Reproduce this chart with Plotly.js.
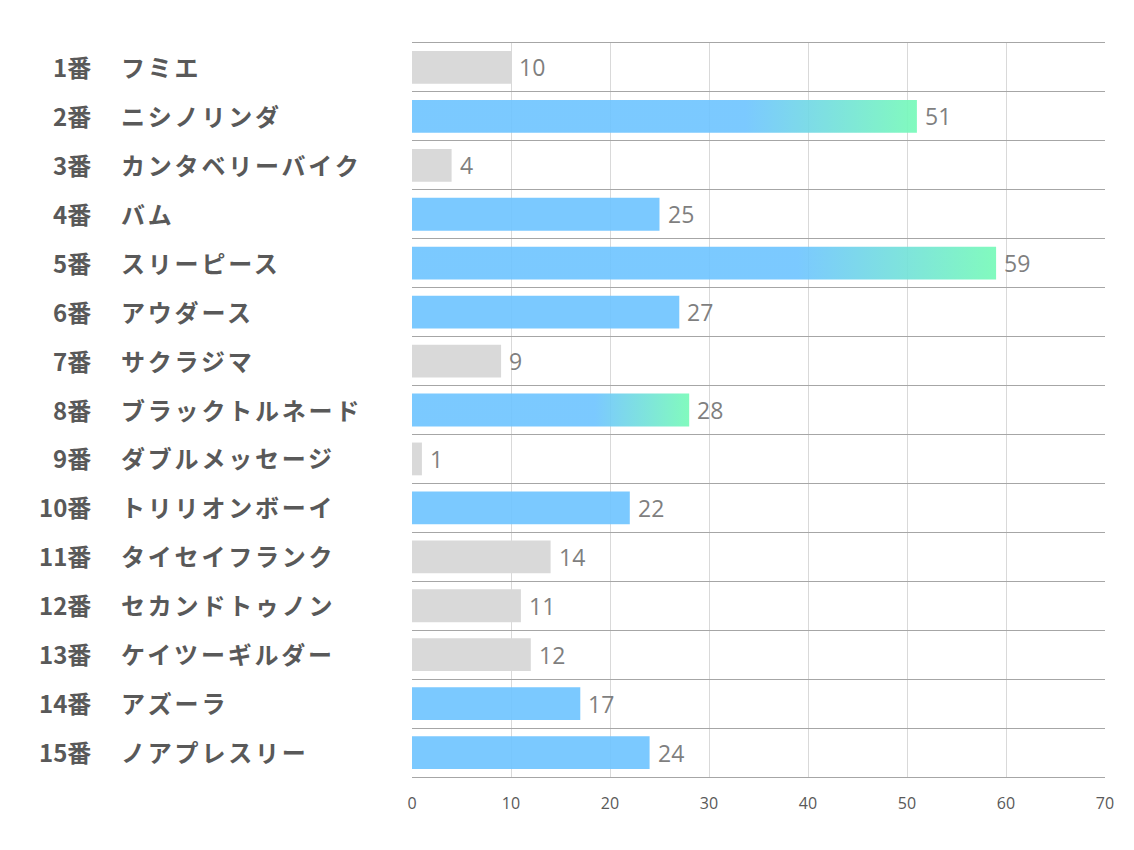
<!DOCTYPE html>
<html>
<head>
<meta charset="utf-8">
<script src="https://cdn.plot.ly/plotly-3.0.1.min.js"></script>
<style>html,body{margin:0;padding:0;background:#fff;}#chart{width:1134px;height:850px;}</style>
</head>
<body>
<div id="chart"></div>
<script>
const numbers = ["1番","2番","3番","4番","5番","6番","7番","8番","9番","10番","11番","12番","13番","14番","15番"];
const names = ["フミエ","ニシノリンダ","カンタベリーバイク","バム","スリーピース","アウダース","サクラジマ","ブラックトルネード","ダブルメッセージ","トリリオンボーイ","タイセイフランク","セカンドトゥノン","ケイツーギルダー","アズーラ","ノアプレスリー"];
const values = [10,51,4,25,59,27,9,28,1,22,14,11,12,17,24];
const xTicks = [0,10,20,30,40,50,60,70];

const idx = values.map((v,i)=>i);
const sorted = values.slice().sort((a,b)=>b-a);
const blueCut = sorted[7];   // top 8 are blue
const gradCut = sorted[2];   // top 3 get gradient
const BLUE = 'rgba(110,196,255,0.91)';
const GRAY = 'rgba(217,217,217,1)';
const colors = values.map(v => v >= blueCut ? BLUE : GRAY);

const trace = {
  type: 'bar', orientation: 'h',
  x: values, y: idx,
  width: 0.67,
  marker: {color: colors, line: {width: 0}},
  hoverinfo: 'none'
};

const annotations = [];
idx.forEach(i => {
  annotations.push({xref:'paper', yref:'y', x:0, y:i, xshift:-319, yshift:1, xanchor:'right', yanchor:'middle',
    text:numbers[i], showarrow:false, font:{family:'Noto Sans CJK JP', size:24, color:'#595959', weight:'bold'}});
  annotations.push({xref:'paper', yref:'y', x:0, y:i, xshift:-293, yshift:1, xanchor:'left', yanchor:'middle',
    text:names[i], showarrow:false, font:{family:'Noto Sans CJK JP', size:24, color:'#595959', weight:'bold'}});
  annotations.push({xref:'x', yref:'y', x:values[i], y:i, xshift:6, xanchor:'left', yanchor:'middle',
    text:String(values[i]), showarrow:false, font:{family:'Open Sans', size:23, color:'#7f7f7f'}});
});

const gridVals = idx.slice(0, idx.length-1).map(i => i + 0.5);

const layout = {
  width:1134, height:850,
  margin:{l:412, r:29, t:43, b:73},
  paper_bgcolor:'#fff', plot_bgcolor:'#fff',
  showlegend:false,
  xaxis:{range:[0,70], tickvals:xTicks, ticktext:xTicks.map(String), showgrid:true, gridcolor:'#d9d9d9', gridwidth:1,
    zeroline:false, showline:true, mirror:true, linecolor:'#a6a6a6', linewidth:1, ticks:'',
    ticklabelstandoff:12, tickfont:{family:'Open Sans', size:16, color:'#595959'}, fixedrange:true},
  yaxis:{range:[14.5,-0.5], tickvals:gridVals, showticklabels:false, showgrid:true, gridcolor:'#a6a6a6', gridwidth:1,
    zeroline:false, showline:false, ticks:'', fixedrange:true},
  annotations: annotations
};

Plotly.newPlot('chart', [trace], layout, {displayModeBar:false, staticPlot:true}).then(gd => {
  const svg = gd.querySelector('svg.main-svg');
  let defs = svg.querySelector('defs');
  const ns = 'http://www.w3.org/2000/svg';
  const grad = document.createElementNS(ns, 'linearGradient');
  grad.setAttribute('id', 'barGrad');
  grad.setAttribute('x1','0'); grad.setAttribute('x2','1'); grad.setAttribute('y1','0'); grad.setAttribute('y2','0');
  [[0,'rgb(110,196,255)',0.91],[0.66,'rgb(110,196,255)',0.91],[1,'rgb(120,250,185)',0.93]].forEach(s => {
    const st = document.createElementNS(ns, 'stop');
    st.setAttribute('offset', s[0]); st.setAttribute('stop-color', s[1]); st.setAttribute('stop-opacity', s[2]);
    grad.appendChild(st);
  });
  defs.appendChild(grad);
  const paths = gd.querySelectorAll('.barlayer .trace .point path');
  paths.forEach((p, i) => {
    if (values[i] >= gradCut) { p.style.fill = 'url(#barGrad)'; p.style.fillOpacity = 1; }
  });
  // letter spacing for horse names, keeping their left edge fixed
  const nameSet = new Set(names);
  gd.querySelectorAll('.annotation-text').forEach(t => {
    if (nameSet.has(t.textContent)) {
      const bb = t.getBBox();
      t.style.letterSpacing = '2.8px';
      t.setAttribute('text-anchor', 'start');
      t.setAttribute('x', bb.x);
    }
  });
});
</script>
</body>
</html>
